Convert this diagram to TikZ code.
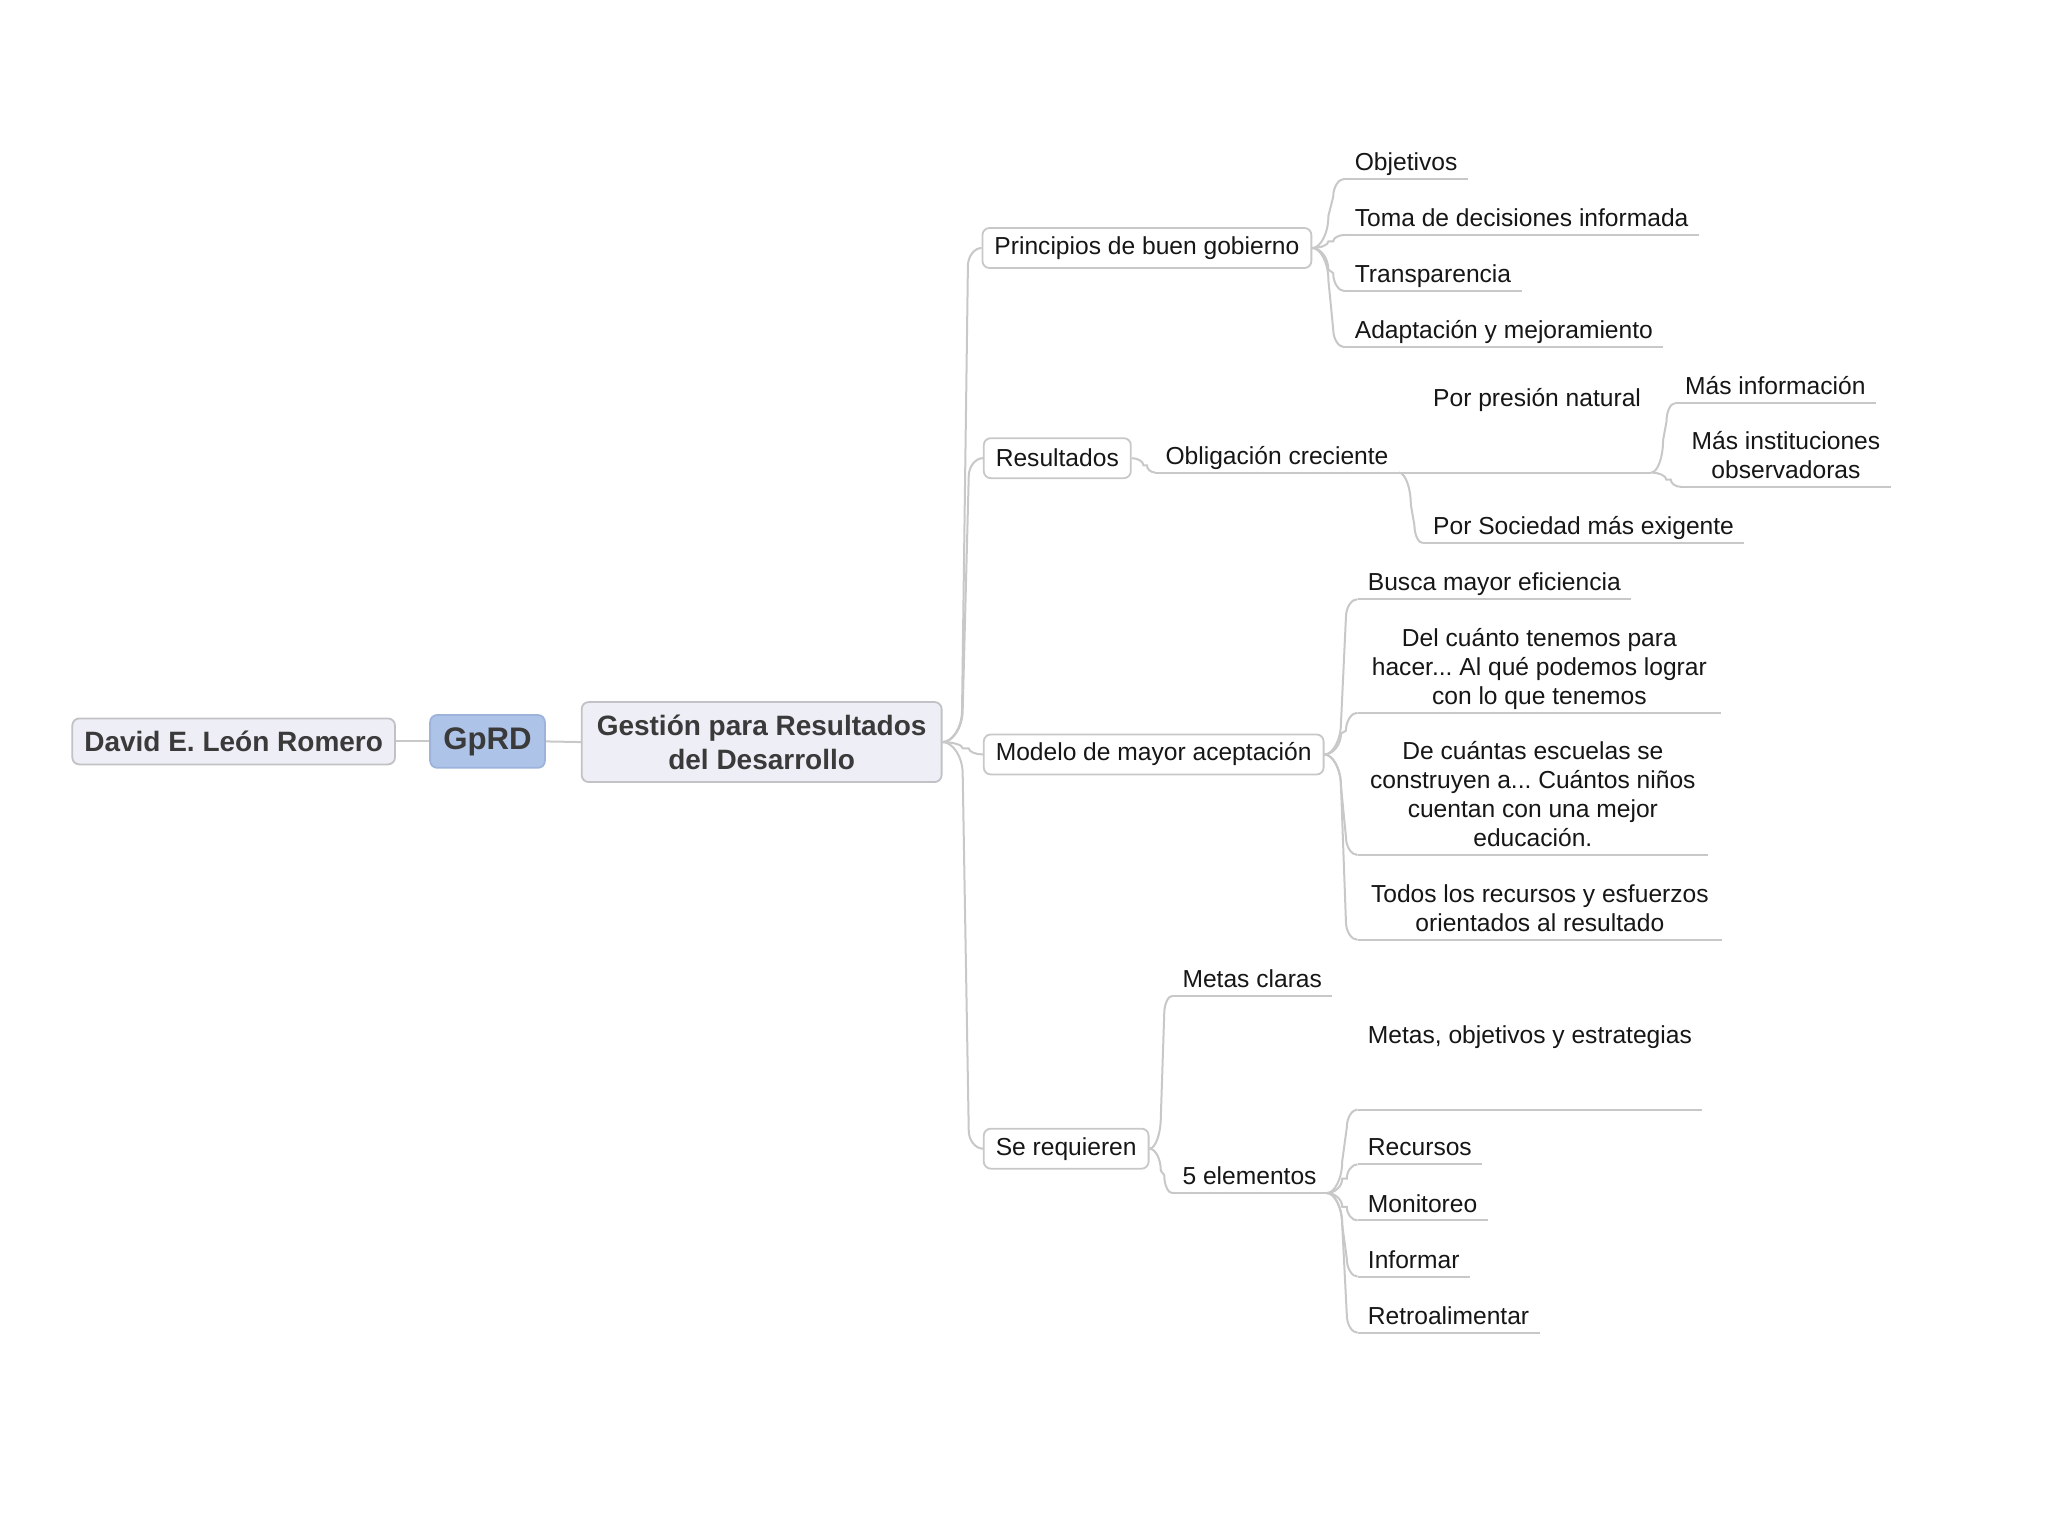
\documentclass[tikz,border=0pt]{standalone}
\usepackage{fontspec}
\setmainfont{Liberation Sans}
\usetikzlibrary{calc}
\definecolor{linec}{HTML}{C8C8C8}
\definecolor{rootfill}{HTML}{EEEEF6}
\definecolor{rootdraw}{HTML}{C2C2C6}
\definecolor{gfill}{HTML}{AEC3E8}
\definecolor{gdraw}{HTML}{9DB3DC}
\definecolor{roottext}{HTML}{3A3A3A}
\definecolor{txt}{HTML}{161616}
\newcommand{\leaffont}{\fontsize{12.3}{14.5}\selectfont\frenchspacing}
\newcommand{\mlines}[1]{\vbox{\halign{\hfil##\hfil\cr#1\crcr}}}
\begin{document}
\begin{tikzpicture}[x=0.6528pt,y=-0.6528pt,
  conn/.style={draw=linec, line width=1pt},
  uline/.style={draw=linec, line width=1pt},
  rootbox/.style={draw=rootdraw, fill=rootfill, line width=0.9pt, rounded corners=3.5pt,
    font=\fontsize{14}{17}\selectfont\bfseries, text=roottext, inner xsep=6pt},
  gbox/.style={draw=gdraw, fill=gfill, line width=0.9pt, rounded corners=3.5pt,
    font=\fontsize{15.6}{18}\selectfont\bfseries, text=roottext, inner xsep=6pt},
  l1/.style={draw=linec, fill=white, line width=0.9pt, rounded corners=3.5pt,
    font=\leaffont, text=txt, inner xsep=6pt, minimum height=20pt, anchor=west},
  ul/.style={anchor=south west, inner xsep=5pt, inner ysep=0pt, text depth=4pt,
    font=\leaffont, text=txt},
  elbow/.style={to path={let \p1=(\tikztostart), \p2=(\tikztotarget),
    \n1={\x1+0.5*(\x2-\x1)}, \n4={\x1+0.65*(\x2-\x1)},
    \n6={\x1+0.25*(\x2-\x1)}, \n7={\x1+0.82*(\x2-\x1)},
    \n2={ifthenelse(\y2>\y1,1,-1)},
    \n3={min(abs(\y2-\y1)/2,16)}, \n5={min(abs(\y2-\y1)/2,9)} in
    .. controls (\n6*1pt,\y1) and (\n1*1pt,\y1+\n2*\n3*0.45pt) .. (\n1*1pt,\y1+\n2*\n3*1pt)
    -- (\n4*1pt,\y2-\n2*\n5*1pt) .. controls (\n4*1pt,\y2-\n2*\n5*0.45pt) and (\n7*1pt,\y2) .. (\tikztotarget)}}
]
\fill[white] (0,0) rectangle (1569,1177);
\useasboundingbox (0,0) rectangle (1569,1177);

% central nodes
\node[rootbox, minimum width=160pt, minimum height=23pt] (david) at (179,568) {David E. León Romero};
\node[gbox, minimum width=57.4pt, minimum height=26.4pt] (gprd) at (373.5,568) {GpRD};
\node[rootbox, minimum width=180pt, minimum height=40pt, align=center] (gest) at (583.5,568.5) {Gestión para Resultados\\del Desarrollo};

% level 1
\node[l1] (prin) at (752,190) {Principios de buen gobierno};
\node[l1] (res) at (753,351) {Resultados};
\node[l1] (mod) at (753,578) {Modelo de mayor aceptación};
\node[l1] (seq) at (753,880) {Se requieren};

% Principios children
\node[ul] (obj) at (1030,137) {Objetivos};
\node[ul] (toma) at (1030,180) {Toma de decisiones informada};
\node[ul] (transp) at (1030,223) {Transparencia};
\node[ul] (adapt) at (1030,266) {Adaptación y mejoramiento};

% Resultados branch
\node[ul] (obl) at (885,362) {Obligación creciente};
\node[ul, text depth=33pt] (pp) at (1090,362) {Por presión natural};
\node[ul] (ps) at (1090,416) {Por Sociedad más exigente};
\node[ul] (mi) at (1283,309) {Más información};
\node[ul, minimum width=103.6pt] (ms) at (1288,373) {\mlines{Más instituciones\cr observadoras}};

% Modelo children
\node[ul] (busca) at (1040,459) {Busca mayor eficiencia};
\node[ul, minimum width=181.5pt] (del) at (1040,546) {\mlines{Del cuánto tenemos para\cr hacer... Al qué podemos lograr\cr con lo que tenemos}};
\node[ul, minimum width=175pt] (dec) at (1040,655) {\mlines{De cuántas escuelas se\cr construyen a... Cuántos niños\cr cuentan con una mejor\cr educación.}};
\node[ul, minimum width=182pt] (todos) at (1040,720) {\mlines{Todos los recursos y esfuerzos\cr orientados al resultado}};

% Se requieren branch
\node[ul] (metas) at (898,763) {Metas claras};
\node[ul] (five) at (898,914) {5 elementos};
\node[ul, text depth=33pt] (mobj) at (1040,850) {Metas, objetivos y estrategias};
\node[ul] (recur) at (1040,892) {Recursos};
\node[ul] (monit) at (1040,935) {Monitoreo};
\node[ul] (infor) at (1040,978) {Informar};
\node[ul] (retro) at (1040,1021) {Retroalimentar};

% underlines
\foreach \k in {obj,toma,transp,adapt,obl,pp,ps,mi,ms,busca,del,dec,todos,metas,five,mobj,recur,monit,infor,retro}
  \draw[uline] (\k.south west) -- (\k.south east);

% connectors
\draw[conn] (david.east) -- (gprd.west);
\draw[conn] (gprd.east) -- (gest.west);
\foreach \k in {prin,res,mod,seq}
  \draw[conn] (gest.east) to[elbow] (\k.west);
\foreach \k in {obj,toma,transp,adapt}
  \draw[conn] (prin.east) to[elbow] (\k.south west);
\draw[conn] (res.east) to[elbow] (obl.south west);
\foreach \k in {pp,ps}
  \draw[conn] (obl.south east) to[elbow] (\k.south west);
\foreach \k in {mi,ms}
  \draw[conn] (pp.south east) to[elbow] (\k.south west);
\foreach \k in {busca,del,dec,todos}
  \draw[conn] (mod.east) to[elbow] (\k.south west);
\foreach \k in {metas,five}
  \draw[conn] (seq.east) to[elbow] (\k.south west);
\foreach \k in {mobj,recur,monit,infor,retro}
  \draw[conn] (five.south east) to[elbow] (\k.south west);
\end{tikzpicture}
\end{document}
